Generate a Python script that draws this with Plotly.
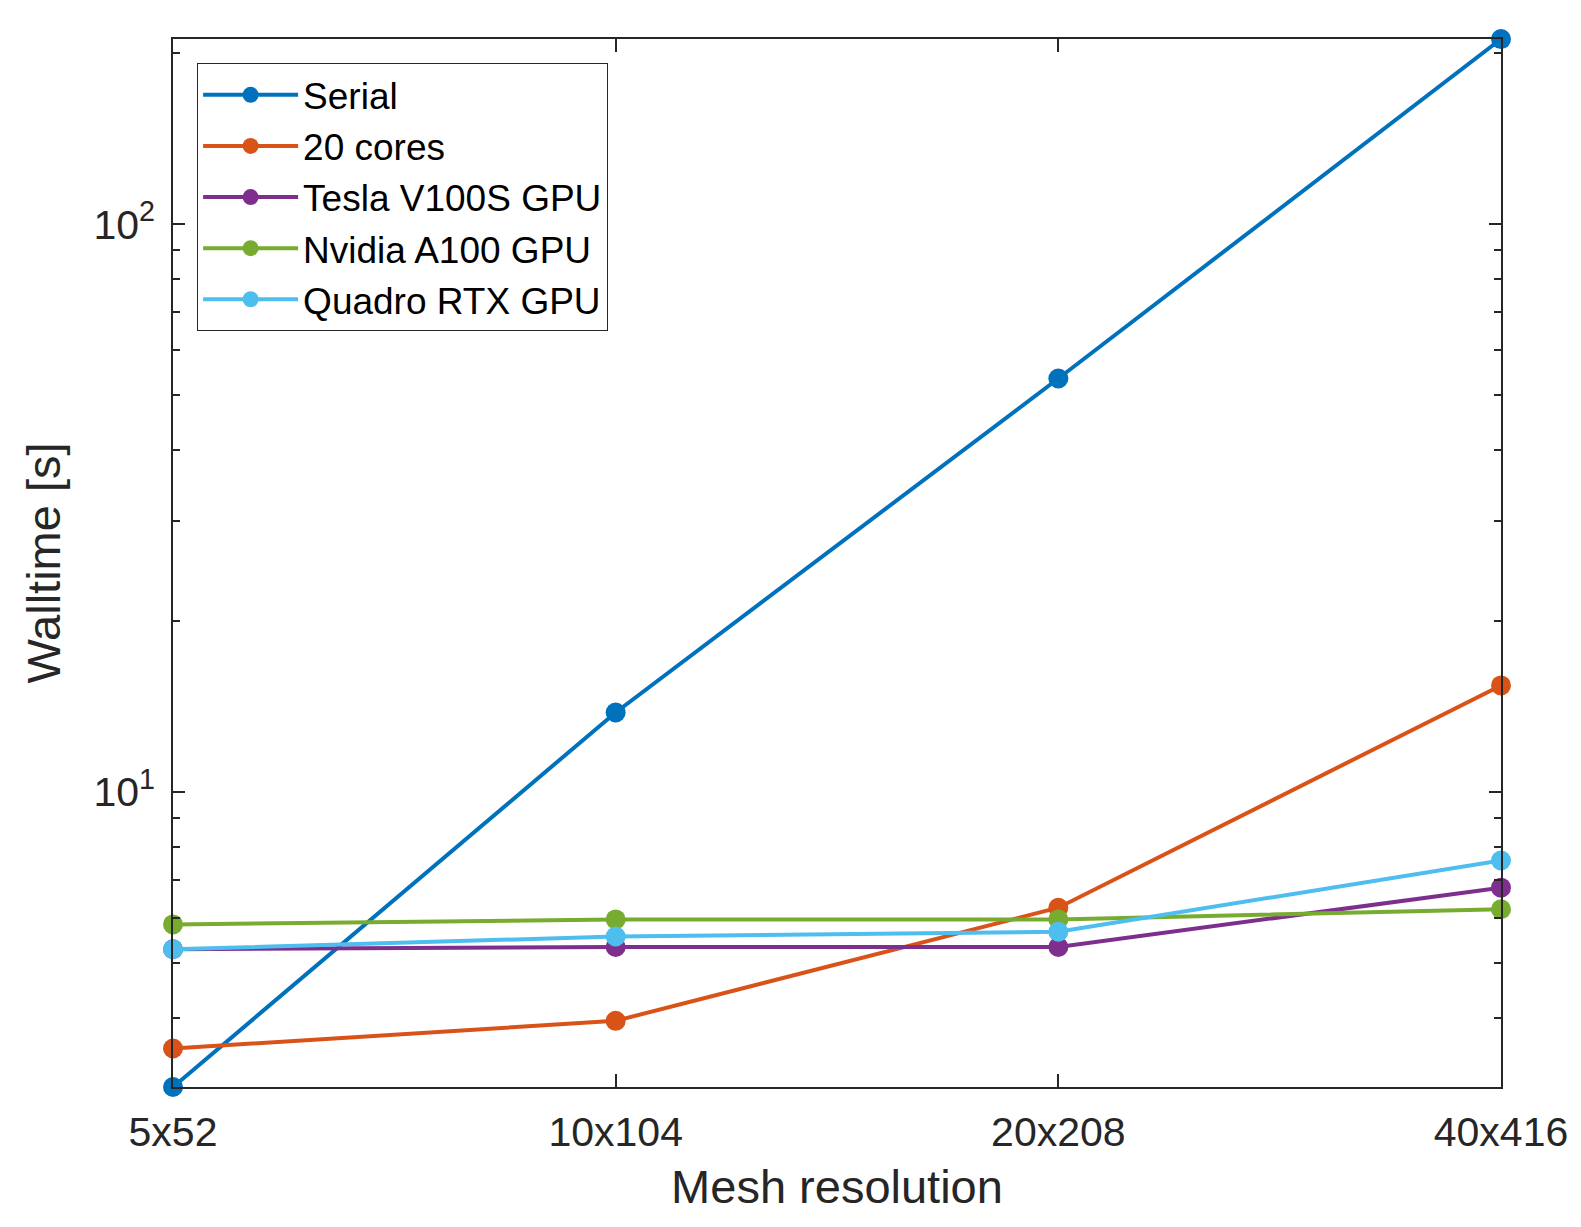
import plotly.graph_objects as go

# Walltime per mesh resolution
mesh = ["5x52", "10x104", "20x208", "40x416"]
serial = [3.02, 13.8, 53.5, 212]
cores20 = [3.53, 3.95, 6.25, 15.4]
tesla_v100s = [5.28, 5.33, 5.33, 6.78]
nvidia_a100 = [5.84, 5.96, 5.96, 6.21]
quadro_rtx = [5.28, 5.56, 5.67, 7.57]

series = [
    ("Serial", serial, "#0072BD"),
    ("20 cores", cores20, "#D95319"),
    ("Tesla V100S GPU", tesla_v100s, "#7E2F8E"),
    ("Nvidia A100 GPU", nvidia_a100, "#77AC30"),
    ("Quadro RTX GPU", quadro_rtx, "#4DBEEE"),
]

FONT = "Liberation Sans, Arial, Helvetica, sans-serif"
AXIS = "#262626"

fig = go.Figure()
for name, vals, color in series:
    fig.add_trace(go.Scatter(
        x=mesh, y=vals, name=name, mode="lines+markers",
        line=dict(color=color, width=4),
        marker=dict(symbol="circle", size=20, color=color),
        cliponaxis=False,
    ))

fig.update_xaxes(
    type="category", range=[0, 3],
    showline=True, linecolor=AXIS, linewidth=1.5, mirror="ticks",
    ticks="inside", ticklen=13, tickwidth=1.5, tickcolor=AXIS,
    showgrid=False, zeroline=False,
    tickfont=dict(family=FONT, size=41, color=AXIS),
    ticklabelstandoff=8,
    title=dict(text="Mesh resolution", font=dict(family=FONT, size=47, color=AXIS), standoff=16),
)
fig.update_yaxes(
    type="log", range=[0.48, 2.3265],
    tickvals=[10, 100], ticktext=["10<sup>1</sup>", "10<sup>2</sup>"],
    showline=True, linecolor=AXIS, linewidth=1.5, mirror="ticks",
    ticks="inside", ticklen=12, tickwidth=1.5, tickcolor=AXIS,
    minor=dict(ticks="inside", ticklen=7, tickwidth=1.5, tickcolor=AXIS,
               tickvals=[4, 5, 6, 7, 8, 9, 20, 30, 40, 50, 60, 70, 80, 90, 200],
               showgrid=False),
    showgrid=False, zeroline=False,
    tickfont=dict(family=FONT, size=41, color=AXIS),
    ticklabelstandoff=8,
    title=dict(text="Walltime [s]", font=dict(family=FONT, size=47, color=AXIS), standoff=18),
)

fig.update_layout(
    width=1581, height=1227,
    margin=dict(l=165, r=88, t=31, b=148),
    paper_bgcolor="white", plot_bgcolor="white",
    showlegend=True,
    legend=dict(
        x=0.018, y=0.977, xanchor="left", yanchor="top",
        bgcolor="white", bordercolor="#262626", borderwidth=1.2,
        font=dict(family=FONT, size=37, color="black"),
        itemwidth=95, tracegroupgap=0,
    ),
)

fig.write_html("out.html")
